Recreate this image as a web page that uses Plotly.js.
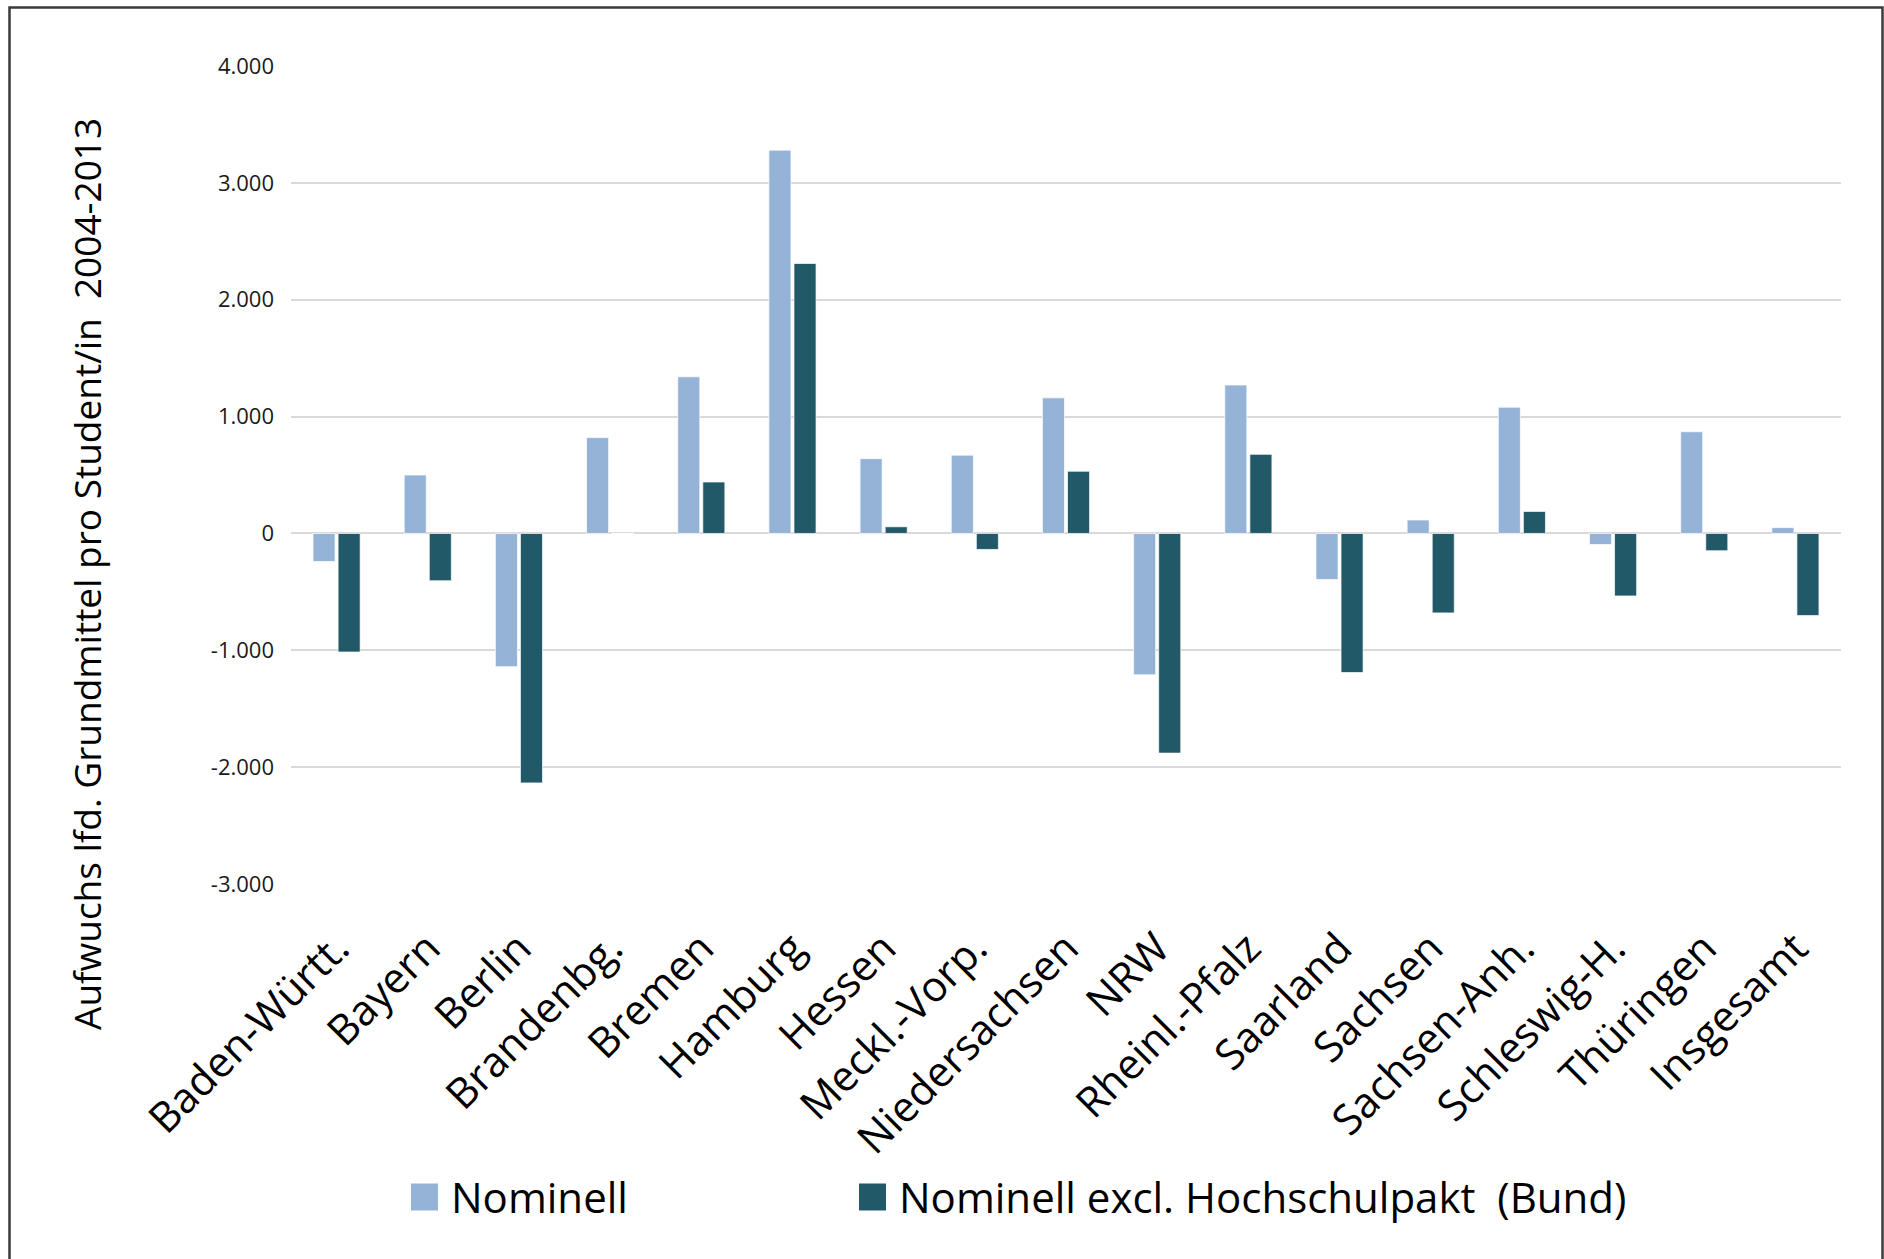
<!DOCTYPE html>
<html>
<head>
<meta charset="utf-8">
<script src="https://cdn.plot.ly/plotly-3.0.1.min.js"></script>
<style>
  html, body { margin: 0; padding: 0; background: #ffffff; }
  #chart { width: 1884px; height: 1259px; }
</style>
</head>
<body>
<div id="chart"></div>
<script>
// ---- Data ----
const categories = ["Baden-Württ.", "Bayern", "Berlin", "Brandenbg.", "Bremen", "Hamburg", "Hessen",
  "Meckl.-Vorp.", "Niedersachsen", "NRW", "Rheinl.-Pfalz", "Saarland", "Sachsen", "Sachsen-Anh.",
  "Schleswig-H.", "Thüringen", "Insgesamt"];
const nominell = [-240, 500, -1140, 820, 1340, 3280, 640, 670, 1160, -1210, 1270, -395, 115, 1080, -95, 870, 50];
const nominellExclHSP = [-1015, -405, -2135, 0, 440, 2310, 57, -137, 532, -1880, 677, -1190, -680, 188, -535, -148, -703];
const seriesNames = ["Nominell", "Nominell excl. Hochschulpakt\u00a0 (Bund)"];
const yTickVals = [-3000, -2000, -1000, 0, 1000, 2000, 3000, 4000];
const yTickText = ["-3.000", "-2.000", "-1.000", "0", "1.000", "2.000", "3.000", "4.000"];
const yTitle = "Aufwuchs lfd. Grundmittel pro Student/in\u00a0 2004-2013";

// ---- Layout geometry ----
const W = 1884, H = 1259;
const M = { l: 291, r: 43, t: 66, b: 375 };
const PW = W - M.l - M.r, PH = H - M.t - M.b;
const px2x = p => (p - M.l) / PW;
const py2y = p => (H - M.b - p) / PH;

const colors = ["#95B3D7", "#215968"];
const FONT = "Open Sans, Noto Sans, sans-serif";

const traces = [nominell, nominellExclHSP].map((vals, i) => ({
  type: "bar",
  name: seriesNames[i],
  x: categories,
  y: vals,
  marker: { color: colors[i], line: { color: "rgba(255,255,255,0.7)", width: 1 } },
  showlegend: false,
  hoverinfo: "x+y"
}));

// custom legend (large square swatches)
const legendSq = [411, 859];
const legendTx = [449, 897];
const legendCy = 1196, sq = 27;
const shapes = [
  { type: "rect", xref: "paper", yref: "paper",
    x0: px2x(9.5), x1: px2x(1882.5), y0: py2y(1300), y1: py2y(7.5),
    line: { color: "#3a3a3a", width: 2.5 }, fillcolor: "rgba(0,0,0,0)", layer: "below" }
];
const annotations = [
  { xref: "paper", yref: "paper", x: px2x(86), y: py2y(574), text: yTitle, textangle: -90,
    showarrow: false, xanchor: "center", yanchor: "middle",
    font: { family: FONT, size: 37, color: "#000000" } }
];
seriesNames.forEach((n, i) => {
  shapes.push({ type: "rect", xref: "paper", yref: "paper",
    x0: px2x(legendSq[i]), x1: px2x(legendSq[i] + sq),
    y0: py2y(legendCy + 1 + sq / 2), y1: py2y(legendCy + 1 - sq / 2),
    line: { width: 0 }, fillcolor: colors[i] });
  annotations.push({ xref: "paper", yref: "paper", x: px2x(legendTx[i]), y: py2y(legendCy),
    text: n, showarrow: false, xanchor: "left", yanchor: "middle",
    font: { family: FONT, size: 42, color: "#000000" } });
});

const layout = {
  width: W, height: H,
  margin: M,
  paper_bgcolor: "#ffffff", plot_bgcolor: "#ffffff",
  barmode: "group", bargap: 0.45, bargroupgap: 0.12,
  font: { family: FONT, color: "#000000" },
  xaxis: {
    type: "category",
    tickangle: -45,
    tickfont: { family: FONT, size: 42, color: "#000000" },
    ticks: "", showgrid: false, zeroline: false, showline: false,
    ticklabelstandoff: 30
  },
  yaxis: {
    range: [-3000, 4000],
    tickmode: "array", tickvals: yTickVals, ticktext: yTickText,
    tickfont: { family: FONT, size: 22, color: "#1a1a1a" },
    showgrid: true, gridcolor: "#d9d9d9", gridwidth: 1.6,
    zeroline: false, showline: false, ticks: "",
    ticklabelstandoff: 16
  },
  shapes: shapes,
  annotations: annotations,
  showlegend: false
};

Plotly.newPlot("chart", traces, layout, { displayModeBar: false, responsive: false });
</script>
</body>
</html>
